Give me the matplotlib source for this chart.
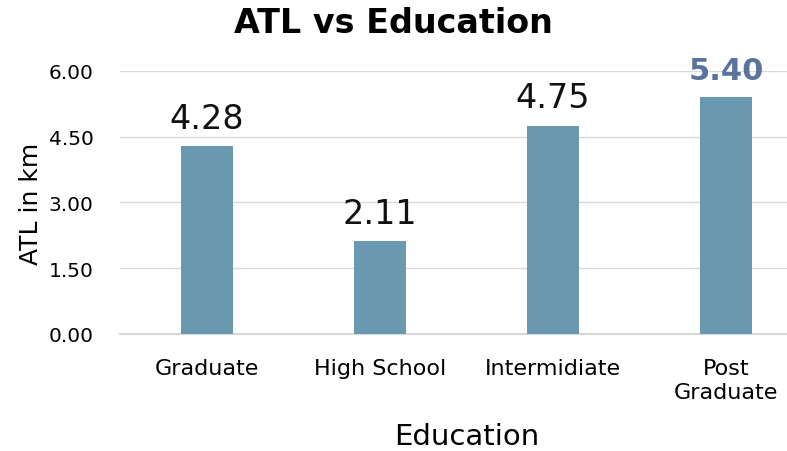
import numpy as np
import matplotlib
matplotlib.use("Agg")
import matplotlib.pyplot as plt

plt.rcParams['font.family'] = ['DejaVu Sans']

categories = ["Graduate", "High School", "Intermidiate", "Post\nGraduate"]
atl_km = [4.28, 2.11, 4.75, 5.40]
y_ticks = [0.0, 1.5, 3.0, 4.5, 6.0]

bar_color = "#6a98b1"
grid_color = "#d9d9d9"

fig = plt.figure(figsize=(7.87, 4.52), dpi=100)
ax = fig.add_axes([0.1525, 0.259, 0.8805, 0.582])

x = np.arange(len(categories))
ax.bar(x, atl_km, width=0.30, color=bar_color, zorder=3)

for xi, v in zip(x, atl_km):
    if v == max(atl_km):
        ax.text(xi, v + 0.28, f"{v:.2f}", ha="center", va="bottom",
                fontsize=22, fontweight="bold", color="#5b729c")
    else:
        ax.text(xi, v + 0.26, f"{v:.2f}", ha="center", va="bottom",
                fontsize=24, color="#111111")

ax.set_xlim(-0.5, len(categories) - 0.5)
ax.set_ylim(0, 6)
ax.set_yticks(y_ticks)
ax.set_yticklabels([f"{t:.2f}" for t in y_ticks])
ax.set_xticks(x)
ax.set_xticklabels(categories, fontsize=16, linespacing=1.3)
ax.tick_params(axis="y", labelsize=14.5, length=0, pad=19)
ax.tick_params(axis="x", length=0, pad=17)

ax.grid(axis="y", color=grid_color, linewidth=1.0, zorder=0)
ax.axhline(0, color=grid_color, linewidth=1.5, zorder=1, clip_on=False)
for s in ax.spines.values():
    s.set_visible(False)

ax.set_xlabel("Education", fontsize=21, labelpad=14)
ax.set_ylabel("ATL in km", fontsize=18, labelpad=4)
fig.text(0.5, 0.948, "ATL vs Education", ha="center", va="center",
         fontsize=24, fontweight="bold")

fig.savefig("out.png", dpi=100)
